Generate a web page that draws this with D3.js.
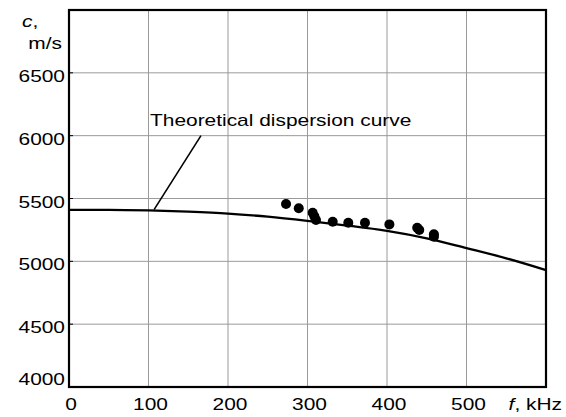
<!DOCTYPE html>
<html>
<head>
<meta charset="utf-8">
<script src="https://cdn.jsdelivr.net/npm/d3@7"></script>
<style>
  body { margin: 0; background: #fff; }
  text { font-family: "Liberation Sans", Arial, sans-serif; fill: #000; }
</style>
</head>
<body>
<svg id="grafico" width="566" height="417"></svg>
<script>
// eixos
const xTicks = [0, 100, 200, 300, 400, 500];
const yTicks = [4000, 4500, 5000, 5500, 6000, 6500];

// curva teórica de dispersão (f em kHz, c em m/s)
const curvaF = [0, 50, 100, 150, 200, 250, 300, 350, 400, 450, 500, 550, 600];
const curvaC = [5410, 5410, 5405, 5395, 5380, 5355, 5322, 5285, 5242, 5183, 5105, 5024, 4930];

// pontos medidos
const pontosF = [273, 289, 306.5, 308.6, 310.7, 331.7, 351.3, 372.3, 403, 438, 440.6, 459, 459];
const pontosC = [5456, 5422, 5387, 5358, 5329, 5315, 5307, 5307, 5294, 5267, 5249, 5215, 5195];

// linha de chamada da legenda
const chamadaF = [107, 166];
const chamadaC = [5412, 6000];
const rotuloCurva = "Theoretical dispersion curve";

const svg = d3.select("#grafico");
const margem = { top: 10, right: 20, bottom: 30, left: 69 };
const largura = +svg.attr("width");
const altura = +svg.attr("height");
const esticar = 1.23; // o texto original está alargado na horizontal

const x = d3.scaleLinear().domain([0, 600]).range([margem.left, largura - margem.right]);
const y = d3.scaleLinear().domain([4000, 7000]).range([altura - margem.bottom, margem.top]);

function texto(sel, px, py, conteudo, ancora) {
  const g = sel.append("g").attr("transform", `translate(${px},${py}) scale(${esticar},1)`);
  return g.append("text").attr("text-anchor", ancora || "start").attr("font-size", 17).text(conteudo);
}

// grade
svg.append("g")
  .selectAll("line")
  .data(xTicks.filter(d => d > 0))
  .join("line")
  .attr("x1", d => x(d)).attr("x2", d => x(d))
  .attr("y1", y(4000)).attr("y2", y(7000))
  .attr("stroke", "#9a9a9a").attr("stroke-width", 1);

svg.append("g")
  .selectAll("line")
  .data(yTicks.filter(d => d > 4000))
  .join("line")
  .attr("x1", x(0)).attr("x2", x(600))
  .attr("y1", d => y(d)).attr("y2", d => y(d))
  .attr("stroke", "#9a9a9a").attr("stroke-width", 1);

// pequenos traços nos eixos
svg.append("g")
  .selectAll("line")
  .data(yTicks)
  .join("line")
  .attr("x1", x(0)).attr("x2", x(0) + 4)
  .attr("y1", d => y(d)).attr("y2", d => y(d))
  .attr("stroke", "#000").attr("stroke-width", 1);

// curva teórica
const linha = d3.line()
  .x((d, i) => x(curvaF[i]))
  .y(d => y(d))
  .curve(d3.curveMonotoneX);

svg.append("path")
  .attr("d", linha(curvaC))
  .attr("fill", "none")
  .attr("stroke", "#000")
  .attr("stroke-width", 2.3);

// linha de chamada
svg.append("line")
  .attr("x1", x(chamadaF[0])).attr("y1", y(chamadaC[0]))
  .attr("x2", x(chamadaF[1])).attr("y2", y(chamadaC[1]))
  .attr("stroke", "#000").attr("stroke-width", 1.6);

// pontos
svg.append("g")
  .selectAll("circle")
  .data(pontosC)
  .join("circle")
  .attr("cx", (d, i) => x(pontosF[i]))
  .attr("cy", d => y(d))
  .attr("r", 5)
  .attr("fill", "#000");

// moldura
svg.append("rect")
  .attr("x", x(0)).attr("y", y(7000))
  .attr("width", x(600) - x(0)).attr("height", y(4000) - y(7000))
  .attr("fill", "none").attr("stroke", "#000").attr("stroke-width", 2.2);

// rótulos dos eixos (o 4000 fica logo acima do eixo)
yTicks.forEach(d => texto(svg, 65, Math.min(y(d) + 9, y(4000) - 2), d, "end"));
xTicks.forEach(d => texto(svg, x(d) + 2, 410, d, "middle"));

const rotY1 = texto(svg, 22, 27, "");
rotY1.append("tspan").attr("font-style", "italic").text("c");
rotY1.append("tspan").text(",");
texto(svg, 62, 49, "m/s", "end");

const rotX = texto(svg, 562, 410, "", "end");
rotX.append("tspan").attr("font-style", "italic").text("f");
rotX.append("tspan").text(", kHz");

texto(svg, 150, 126, rotuloCurva);
</script>
</body>
</html>
